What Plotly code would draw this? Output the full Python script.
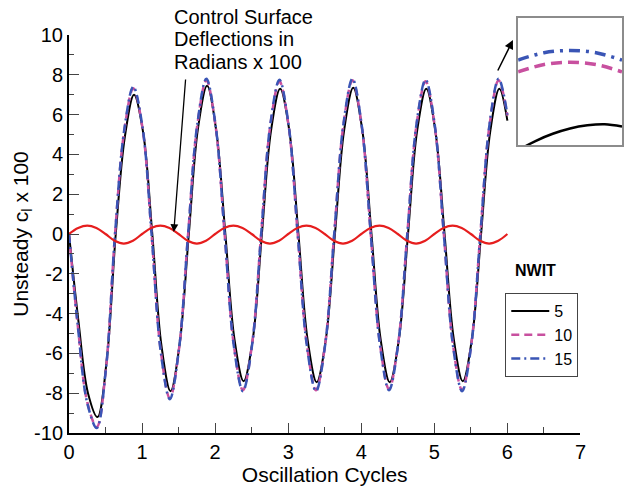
import plotly.graph_objects as go

# ---------------- data ----------------
x_tick_vals = [0, 1, 2, 3, 4, 5, 6, 7]
x_tick_text = ["0", "1", "2", "3", "4", "5", "6", "7"]
y_tick_vals = [-10, -8, -6, -4, -2, 0, 2, 4, 6, 8, 10]
y_tick_text = ["-10", "-8", "-6", "-4", "-2", "0", "2", "4", "6", "8", "10"]

x_nwit5 = [0, 0.13, 0.26, 0.39, 0.515, 0.64, 0.765, 0.89, 1.015, 1.14, 1.265, 1.39,
           1.515, 1.64, 1.765, 1.89, 2.015, 2.14, 2.265, 2.39, 2.515, 2.64, 2.765, 2.89,
           3.015, 3.14, 3.265, 3.39, 3.515, 3.64, 3.765, 3.89, 4.015, 4.14, 4.265, 4.39,
           4.515, 4.64, 4.765, 4.89, 5.015, 5.14, 5.265, 5.39, 5.515, 5.64, 5.765, 5.89, 6.0]
y_nwit5 = [0, -4.4, -8.0, -9.2, -6.4, 0.0, 4.9, 7.0, 5.1, 0.0, -5.6, -7.9,
           -5.5, 0.0, 5.3, 7.45, 5.2, 0.0, -5.3, -7.4, -5.3, 0.0, 5.2, 7.3,
           5.2, 0.0, -5.3, -7.45, -5.3, 0.0, 5.2, 7.35, 5.2, 0.0, -5.3, -7.45,
           -5.3, 0.0, 5.2, 7.3, 5.15, 0.0, -5.25, -7.4, -5.25, 0.0, 5.15, 7.3, 5.7]

x_dashed = [0, 0.12, 0.25, 0.38, 0.505, 0.63, 0.755, 0.88, 1.005, 1.13, 1.255, 1.38,
            1.505, 1.63, 1.755, 1.88, 2.005, 2.13, 2.255, 2.38, 2.505, 2.63, 2.755, 2.88,
            3.005, 3.13, 3.255, 3.38, 3.505, 3.63, 3.755, 3.88, 4.005, 4.13, 4.255, 4.38,
            4.505, 4.63, 4.755, 4.88, 5.005, 5.13, 5.255, 5.38, 5.505, 5.63, 5.755, 5.88, 6.0]
y_nwit10 = [0, -4.6, -8.45, -9.7, -6.8, 0.0, 5.15, 7.32, 5.35, 0.0, -5.85, -8.25,
            -5.8, 0.0, 5.45, 7.72, 5.45, 0.0, -5.55, -7.85, -5.55, 0.0, 5.45, 7.67,
            5.45, 0.0, -5.55, -7.85, -5.55, 0.0, 5.45, 7.72, 5.45, 0.0, -5.5, -7.8,
            -5.5, 0.0, 5.45, 7.67, 5.45, 0.0, -5.55, -7.85, -5.55, 0.0, 5.45, 7.72, 5.95]
y_nwit15 = [0, -4.6, -8.5, -9.75, -6.8, 0.0, 5.2, 7.4, 5.4, 0.0, -5.9, -8.3,
            -5.8, 0.0, 5.5, 7.8, 5.5, 0.0, -5.6, -7.9, -5.6, 0.0, 5.5, 7.75,
            5.5, 0.0, -5.6, -7.9, -5.6, 0.0, 5.5, 7.8, 5.5, 0.0, -5.55, -7.85,
            -5.55, 0.0, 5.5, 7.75, 5.5, 0.0, -5.6, -7.9, -5.6, 0.0, 5.5, 7.8, 6.0]

x_deflection = [0, 0.125, 0.25, 0.375, 0.5, 0.625, 0.75, 0.875,
                1, 1.125, 1.25, 1.375, 1.5, 1.625, 1.75, 1.875,
                2, 2.125, 2.25, 2.375, 2.5, 2.625, 2.75, 2.875,
                3, 3.125, 3.25, 3.375, 3.5, 3.625, 3.75, 3.875,
                4, 4.125, 4.25, 4.375, 4.5, 4.625, 4.75, 4.875,
                5, 5.125, 5.25, 5.375, 5.5, 5.625, 5.75, 5.875, 6.0]
y_deflection = [0, 0.3, 0.42, 0.3, 0, -0.34, -0.48, -0.34,
                0, 0.3, 0.42, 0.3, 0, -0.34, -0.48, -0.34,
                0, 0.3, 0.42, 0.3, 0, -0.34, -0.48, -0.34,
                0, 0.3, 0.42, 0.3, 0, -0.34, -0.48, -0.34,
                0, 0.3, 0.42, 0.3, 0, -0.34, -0.48, -0.34,
                0, 0.3, 0.42, 0.3, 0, -0.34, -0.48, -0.34, 0]

# inset (zoom on the last peak)
inset_x_dashed = [5.855, 5.8655, 5.876, 5.8865, 5.897]
inset_y_nwit15 = [7.735, 7.785, 7.8, 7.785, 7.735]
inset_y_nwit10 = [7.655, 7.705, 7.72, 7.705, 7.655]
inset_x_nwit5 = [5.855, 5.862, 5.869, 5.876, 5.883, 5.890, 5.897]
inset_y_nwit5 = [7.124, 7.187, 7.236, 7.272, 7.293, 7.3, 7.285]

series_names = ["5", "10", "15"]
colors = {"5": "black", "10": "#c8509f", "15": "#3a55b5", "defl": "#e61e1e"}

FONT = "Liberation Sans, Arial, Helvetica, sans-serif"

fig = go.Figure()

# main traces
fig.add_trace(go.Scatter(x=x_nwit5, y=y_nwit5, name=series_names[0], mode="lines",
                         line=dict(color=colors["5"], width=2, shape="spline", smoothing=1)))
fig.add_trace(go.Scatter(x=x_dashed, y=y_nwit10, name=series_names[1], mode="lines",
                         line=dict(color=colors["10"], width=2.5, dash="8px,5px",
                                   shape="spline", smoothing=1)))
fig.add_trace(go.Scatter(x=x_dashed, y=y_nwit15, name=series_names[2], mode="lines",
                         line=dict(color=colors["15"], width=2.5, dash="9px,4px,2px,4px",
                                   shape="spline", smoothing=1)))
fig.add_trace(go.Scatter(x=x_deflection, y=y_deflection, name="deflection", mode="lines",
                         showlegend=False,
                         line=dict(color=colors["defl"], width=2.2, shape="spline", smoothing=1)))

# inset traces
fig.add_trace(go.Scatter(x=inset_x_nwit5, y=inset_y_nwit5, mode="lines", showlegend=False,
                         xaxis="x2", yaxis="y2",
                         line=dict(color=colors["5"], width=2.5, shape="spline")))
fig.add_trace(go.Scatter(x=inset_x_dashed, y=inset_y_nwit10, mode="lines", showlegend=False,
                         xaxis="x2", yaxis="y2",
                         line=dict(color=colors["10"], width=3.5, dash="11px,6px",
                                   shape="spline")))
fig.add_trace(go.Scatter(x=inset_x_dashed, y=inset_y_nwit15, mode="lines", showlegend=False,
                         xaxis="x2", yaxis="y2",
                         line=dict(color=colors["15"], width=3.5, dash="11px,6px,3px,6px",
                                   shape="spline")))

# geometry (pixels -> paper)
W, H = 629, 489
L, T, B = 69, 18, 56
PW, PH = W - L, H - T - B  # 560, 415


def px(xp):
    return (xp - L) / PW


def py(yp):
    return (H - B - yp) / PH


tick_col = "#444444"
fig.update_layout(
    width=W, height=H,
    margin=dict(l=L, r=0, t=T, b=B, pad=0),
    paper_bgcolor="white", plot_bgcolor="white",
    font=dict(family=FONT, size=20, color="black"),
    showlegend=True,
    legend=dict(x=px(510), y=py(293), xanchor="left", yanchor="top",
                bordercolor="#444444", borderwidth=1, bgcolor="white",
                font=dict(size=16, family=FONT), tracegroupgap=0,
                itemwidth=38),
    xaxis=dict(domain=[0, px(586)], range=[0, 7], tickmode="array",
               tickvals=x_tick_vals, ticktext=x_tick_text,
               ticks="inside", ticklen=10, tickwidth=1, tickcolor=tick_col,
               showline=True, linewidth=2, linecolor="black",
               showgrid=False, zeroline=False,
               tickfont=dict(size=20),
               minor=dict(tickvals=[0.5, 1.5, 2.5, 3.5, 4.5, 5.5, 6.5], ticks="inside",
                          ticklen=6, tickwidth=1, tickcolor=tick_col),
               title=dict(text="Oscillation Cycles", font=dict(size=21), standoff=0)),
    yaxis=dict(domain=[0, py(35)], range=[-10, 10], tickmode="array",
               tickvals=y_tick_vals, ticktext=y_tick_text,
               ticks="inside", ticklen=10, tickwidth=1, tickcolor=tick_col,
               showline=True, linewidth=2, linecolor="black",
               showgrid=False, zeroline=False,
               tickfont=dict(size=20),
               minor=dict(tickvals=[-9, -7, -5, -3, -1, 1, 3, 5, 7, 9], ticks="inside",
                          ticklen=5, tickwidth=1, tickcolor=tick_col),
               title=dict(text="Unsteady c<sub>l</sub> x 100", font=dict(size=21), standoff=0)),
    xaxis2=dict(domain=[px(523), px(628)], range=[5.855, 5.897], anchor="y2",
                showline=True, mirror=True, linecolor="#8c8c8c", linewidth=1.5,
                showticklabels=False, ticks="", showgrid=False, zeroline=False),
    yaxis2=dict(domain=[py(145), py(18)], range=[7.16, 8.02], anchor="x2",
                showline=True, mirror=True, linecolor="#8c8c8c", linewidth=1.5,
                showticklabels=False, ticks="", showgrid=False, zeroline=False),
)

annos = [
    dict(text="Control Surface", xref="paper", yref="paper", x=px(173), y=py(17),
         xanchor="left", yanchor="middle", showarrow=False, font=dict(size=20)),
    dict(text="Deflections in", xref="paper", yref="paper", x=px(173), y=py(39),
         xanchor="left", yanchor="middle", showarrow=False, font=dict(size=20)),
    dict(text="Radians x 100", xref="paper", yref="paper", x=px(173), y=py(62),
         xanchor="left", yanchor="middle", showarrow=False, font=dict(size=20)),
    dict(text="<b>NWIT</b>", xref="paper", yref="paper", x=px(541), y=py(270),
         xanchor="center", yanchor="middle", showarrow=False, font=dict(size=16)),
    # arrow to deflection curve
    dict(text="", x=1.434, y=0.1, xref="x", yref="y", ax=1.597, ay=7.84,
         axref="x", ayref="y", showarrow=True, arrowhead=2, arrowsize=1.2,
         arrowwidth=1.3, arrowcolor="black"),
    # arrow to inset
    dict(text="", x=6.076, y=9.75, xref="x", yref="y", ax=5.859, ay=8.14,
         axref="x", ayref="y", showarrow=True, arrowhead=2, arrowsize=1.2,
         arrowwidth=1.5, arrowcolor="black"),
]
fig.update_layout(annotations=annos)

fig.write_html("out.html")
